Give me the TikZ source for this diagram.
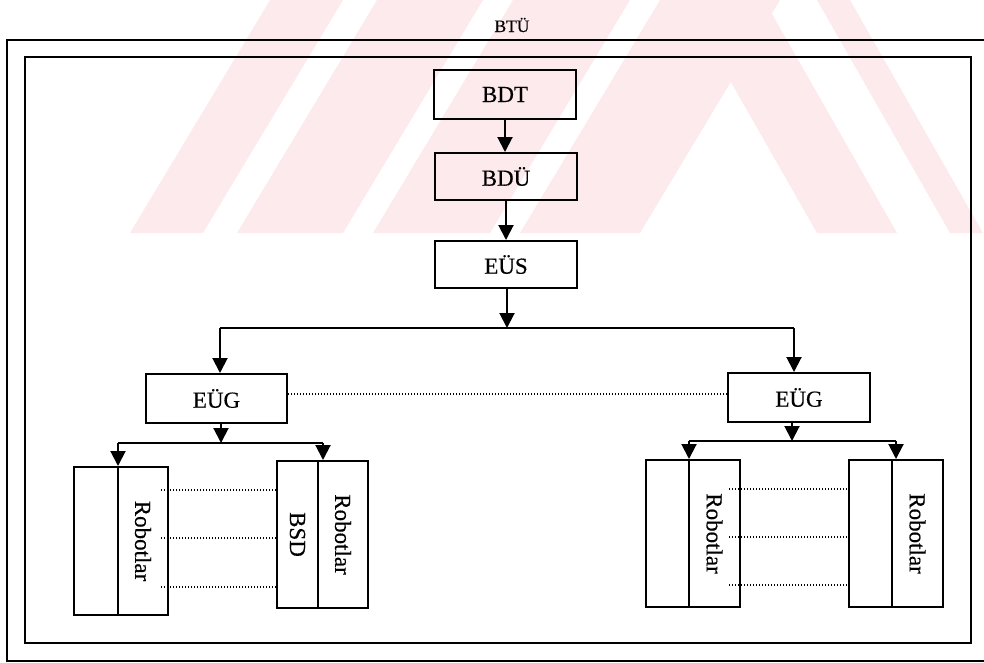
\documentclass[tikz,border=0pt]{standalone}
\usepackage{fontspec}
\setmainfont{Liberation Serif}[FakeBold=0.4]
\usepackage{graphicx}
\usetikzlibrary{arrows.meta}
\definecolor{wm}{RGB}{253,234,237}
\begin{document}
\begin{tikzpicture}[x=1pt,y=-1pt,
  txt/.style={font=\fontsize{23}{26}\selectfont},
  box/.style={draw,line width=2pt,inner sep=0pt,txt},
  col/.style={draw,line width=2pt,inner sep=0pt,txt},
  arr/.style={line width=2pt,-{Triangle[length=15pt,width=15pt]}},
  ln/.style={line width=2pt},
  dl/.style={line width=1.8pt,dash pattern=on 1.4pt off 1.6pt},
  frame/.style={line width=2.8pt},
  wmark/.style={fill=wm}]
\useasboundingbox (0,0) rectangle (984,662);
\begin{scope}
\clip (0,0) rectangle (984,662);
% watermark
\fill[wmark] (130,233) -- (203,233) -- (343,0) -- (270,0) -- cycle;
\fill[wmark] (237,233) -- (343,233) -- (483,0) -- (377,0) -- cycle;
\fill[wmark] (373,233) -- (490,233) -- (630,0) -- (513,0) -- cycle;
\fill[wmark] (520,233) -- (640,233) -- (780,0) -- (660,0) -- cycle;
\fill[wmark] (817,233) -- (897,233) -- (764,0) -- (684,0) -- cycle;
\fill[wmark] (950,233) -- (983,233) -- (850,0) -- (817,0) -- cycle;
% outer frame
\draw[frame] (7,40) rectangle (1010,661);
\end{scope}
% title
\node (btu) at (512,25) {\fontsize{17.5}{20}\selectfont BTÜ};
% inner frame
\draw[frame] (25,57) rectangle (971,643);
% main chain
\node[box,minimum width=142pt,minimum height=49pt] (bdt) at (505,94.5) {BDT};
\node[box,minimum width=142pt,minimum height=47pt] (bdu) at (506,176.5) {BDÜ};
\node[box,minimum width=142pt,minimum height=47pt] (eus) at (506,264.5) {EÜS};
\node[box,minimum width=141pt,minimum height=49pt] (leug) at (216.5,398.5) {EÜG};
\node[box,minimum width=142pt,minimum height=49pt] (reug) at (799,397.5) {EÜG};
% robot columns
\node[col,minimum width=44pt,minimum height=148pt] (r1a) at (96,541) {};
\node[col,minimum width=50pt,minimum height=148pt] (r1b) at (143,541) {\rotatebox{-90}{Robotlar}};
\node[col,minimum width=41pt,minimum height=147pt] (r2a) at (297.5,534.5) {\rotatebox{-90}{BSD}};
\node[col,minimum width=50pt,minimum height=147pt] (r2b) at (343,534.5) {\rotatebox{-90}{Robotlar}};
\node[col,minimum width=43pt,minimum height=147pt] (r3a) at (667.5,533.5) {};
\node[col,minimum width=51pt,minimum height=147pt] (r3b) at (714.5,533.5) {\rotatebox{-90}{Robotlar}};
\node[col,minimum width=43pt,minimum height=147pt] (r4a) at (870.5,533.5) {};
\node[col,minimum width=51pt,minimum height=147pt] (r4b) at (917.5,533.5) {\rotatebox{-90}{Robotlar}};
% connectors
\draw[arr] (bdt.south) -- (bdu.north -| bdt.south);
\draw[arr] (bdu.south) -- (eus.north);
\coordinate (b0) at (507,328);
\coordinate (bl) at (220,328);
\coordinate (br) at (794,328);
\draw[arr] (eus.south -| b0) -- (b0);
\draw[ln] (bl) -- (br);
\draw[arr] (bl) -- (bl |- leug.north);
\draw[arr] (br) -- (br |- reug.north);
% left sub-branch
\coordinate (lb0) at (221,443);
\coordinate (lbl) at (118,443);
\coordinate (lbr) at (323,443);
\draw[arr] (leug.south -| lb0) -- (lb0);
\draw[ln] (lbl) -- (lbr);
\draw[arr] (lbl) -- (lbl |- r1a.north);
\draw[arr] (lbr) -- (lbr |- r2a.north);
% right sub-branch
\coordinate (rb0) at (792,441);
\coordinate (rbl) at (689,441);
\coordinate (rbr) at (896,441);
\draw[arr] (reug.south -| rb0) -- (rb0);
\draw[ln] (rbl) -- (rbr);
\draw[arr] (rbl) -- (rbl |- r3a.north);
\draw[arr] (rbr) -- (rbr |- r4a.north);
% dotted links
\coordinate (d0) at (0,394);
\draw[dl] (leug.east |- d0) -- (reug.west |- d0);
\foreach \y in {490,538,587}{
  \draw[dl] ([xshift=-8pt]r1b.east |- 0,\y) -- (r2a.west |- 0,\y);
}
\foreach \y in {489,537,585}{
  \draw[dl] ([xshift=-12pt]r3b.east |- 0,\y) -- (r4a.west |- 0,\y);
}
\end{tikzpicture}
\end{document}
